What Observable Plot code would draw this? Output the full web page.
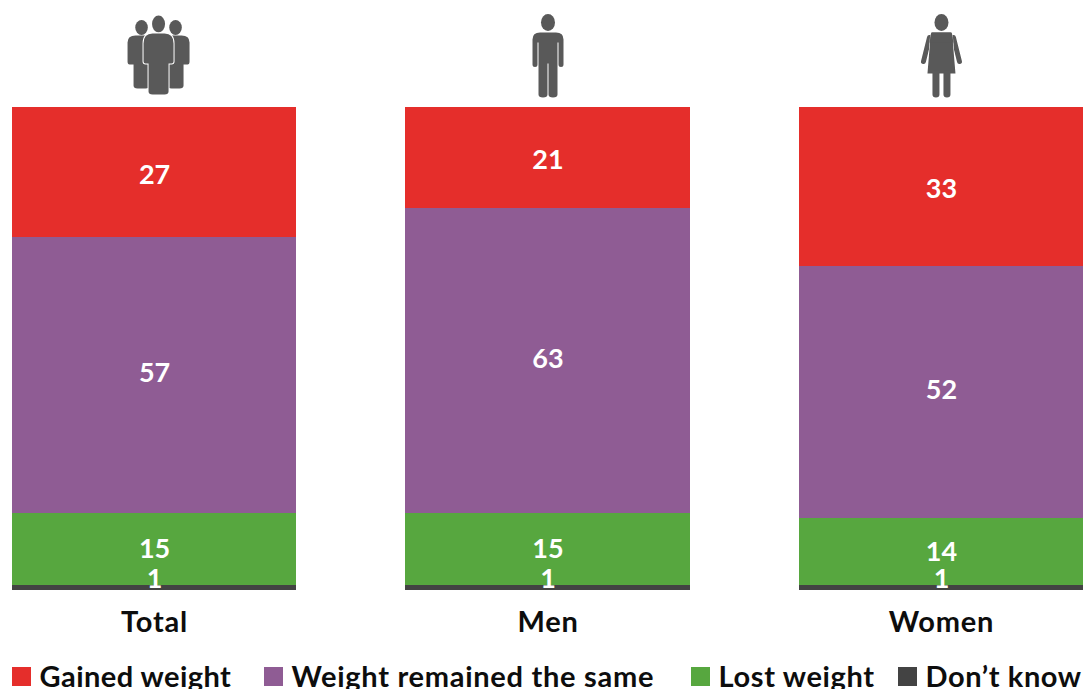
<!DOCTYPE html>
<html>
<head>
<meta charset="utf-8">
<script src="https://cdn.jsdelivr.net/npm/d3@7"></script>
<script src="https://cdn.jsdelivr.net/npm/@observablehq/plot@0.6"></script>
<style>
  html, body { margin: 0; padding: 0; background: #fff; overflow: hidden; }
  #page { position: relative; width: 1083px; height: 689px; overflow: hidden; font-family: Lato, sans-serif; }
  #page svg { display: block; position: absolute; left: 0; top: 0; }
  #page svg g[aria-label="x-axis tick label"] { letter-spacing: 0.8px; }
  .key { position: absolute; top: 660px; height: 32px; display: flex; align-items: center; font-size: 29px; font-weight: 700; color: #0d0d0d; white-space: nowrap; line-height: 32px; }
  .key i { display: block; width: 19px; height: 19px; margin-right: 8.5px; flex: none; }
</style>
</head>
<body>
<div id="page"></div>
<script>
// Weight change by group, percent of respondents.
const groups = ["Total", "Men", "Women"];
const series = ["Gained weight", "Weight remained the same", "Lost weight", "Don\u2019t know"];
const gained = [27, 21, 33];
const remained = [57, 63, 52];
const lost = [15, 15, 14];
const dontKnow = [1, 1, 1];
const seriesValues = [gained, remained, lost, dontKnow];
const colors = ["#E52E2B", "#8F5C94", "#57A73F", "#434343"];

const rows = series.flatMap((s, i) => groups.map((g, j) => ({group: g, series: s, value: seriesValues[i][j]})));

// Pictograms above each column, as small inline SVG documents.
const ink = "#595959";
const manPath = "M-15.5 29Q-15.5 22-8 22H8Q15.5 22 15.5 29V54Q15.5 56.5 13 56.5Q10.5 56.5 10.5 54V32H9.5V84Q9.5 87 5 87Q.5 87 .5 84V53H-.5V84Q-.5 87-5 87Q-9.5 87-9.5 84V32H-10.5V54Q-10.5 56.5-13 56.5Q-15.5 56.5-15.5 54Z";
const svgDoc = body => "data:image/svg+xml," + encodeURIComponent(
  `<svg xmlns="http://www.w3.org/2000/svg" viewBox="-40 0 80 90" width="80" height="90">${body}</svg>`);
const side = x => `<ellipse cx="${x}" cy="17" rx="6.3" ry="7.5" fill="${ink}"/>` +
  `<path d="M${x - 14} 32Q${x - 14} 25 ${x - 6} 25H${x + 6}Q${x + 14} 25 ${x + 14} 32V51Q${x + 14} 54 ${x + 12} 54H${x + 8}V75Q${x + 8} 78 ${x + 4} 78H${x - 4}Q${x - 8} 78 ${x - 8} 75V54H${x - 12}Q${x - 14} 54 ${x - 14} 51Z" fill="${ink}"/>`;
const icons = {
  Total: svgDoc(
    `<g transform="translate(4 0)">${side(-17)}${side(17)}` +
    `<ellipse cx="0" cy="13.5" rx="6.5" ry="8.5" fill="${ink}"/>` +
    `<path d="M-15 33Q-15 23-6 23H6Q15 23 15 33V51Q15 53 13 53H10V81Q10 84 6 84H-6Q-10 84-10 81V53H-13Q-15 53-15 51Z" fill="${ink}" stroke="#fff" stroke-width="2" paint-order="stroke"/></g>`),
  Men: svgDoc(`<ellipse cx="0" cy="12" rx="7" ry="8.5" fill="${ink}"/><path d="${manPath}" fill="${ink}"/>`),
  Women: svgDoc(
    `<ellipse cx="0" cy="12" rx="7" ry="8.5" fill="${ink}"/>` +
    `<path d="M-12 27L-18 51M12 27L18 51" stroke="${ink}" stroke-width="5" stroke-linecap="round" fill="none"/>` +
    `<path d="M-9 22H9Q11 22 11 27L14 63H-14L-11 27Q-11 22-9 22Z" fill="${ink}" stroke="#fff" stroke-width="1" paint-order="stroke"/>` +
    `<path d="M-9 60H-2V84Q-2 87-5.5 87Q-9 87-9 84ZM2 60H9V84Q9 87 5.5 87Q2 87 2 84Z" fill="${ink}"/>` +
    `<path d="M-10 22H10L12 32H-12Z" fill="${ink}"/>`)
};

// Small vertical nudges that keep each value legible inside its segment.
const labelShift = {"Gained weight": 2.5, "Weight remained the same": -2, "Lost weight": 0, "Don\u2019t know": -9};
// The first series in the list sits on top, so the stack is built from the last one up.
const stackOptions = {x: "group", y: "value", z: "series", order: [...series].reverse()};

const chart = Plot.plot({
  width: 1083,
  height: 689,
  marginTop: 107,
  marginBottom: 99,
  marginLeft: 12,
  marginRight: 0,
  style: {fontFamily: "Lato, sans-serif", background: "#fff"},
  x: {domain: groups, paddingInner: 0.278, paddingOuter: 0, round: false},
  y: {domain: [0, 100], axis: null},
  color: {domain: series, range: colors},
  marks: [
    Plot.barY(rows, Plot.stackY({...stackOptions, fill: "series", shapeRendering: "crispEdges"})),
    ...series.map(s => Plot.text(rows, Plot.filter(d => d.series === s, Plot.stackY({
      ...stackOptions,
      text: d => String(d.value),
      fill: "#fff",
      fontSize: 27,
      fontWeight: 700,
      dy: labelShift[s]
    })))),
    Plot.image(groups, {
      x: d => d,
      frameAnchor: "top",
      dy: -52,
      width: 80,
      height: 90,
      src: d => icons[d]
    }),
    Plot.axisX({
      anchor: "bottom",
      label: null,
      tickSize: 0,
      tickPadding: 21,
      fontSize: 29,
      fontWeight: 700,
      fill: "#0d0d0d"
    })
  ]
});

const page = document.getElementById("page");
page.appendChild(chart);

// Legend row under the columns.
const keyLeft = [12, 264, 691, 898];
const keySpacing = [0.45, 0.72, 0.65, 0.6];
series.forEach((s, i) => {
  const item = document.createElement("div");
  item.className = "key";
  item.style.left = keyLeft[i] + "px";
  item.style.letterSpacing = keySpacing[i] + "px";
  const swatch = document.createElement("i");
  swatch.style.background = colors[i];
  item.appendChild(swatch);
  item.appendChild(document.createTextNode(s));
  page.appendChild(item);
});
</script>
</body>
</html>
